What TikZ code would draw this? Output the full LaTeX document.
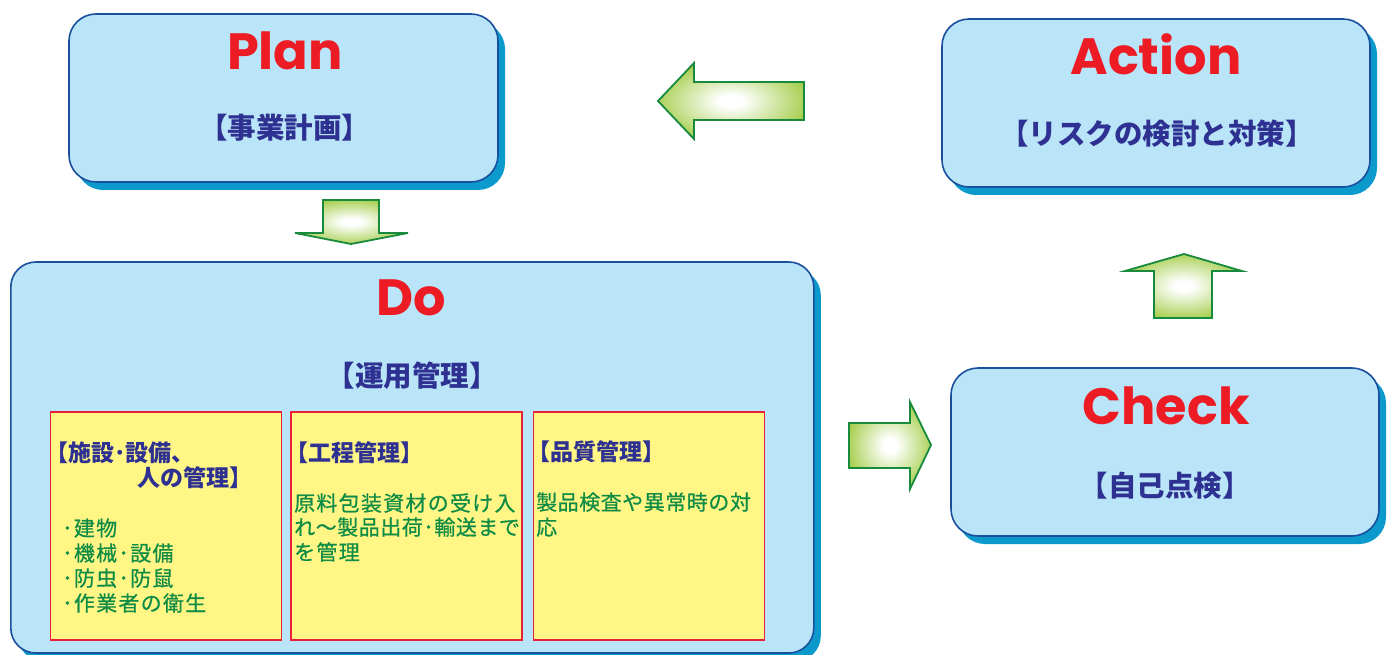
\documentclass[tikz,border=0pt]{standalone}
\usepackage{fontspec}
\newfontfamily\jp{Noto Sans CJK JP}
\newfontfamily\titlefont{Poppins}
\usetikzlibrary{shadows}
\definecolor{boxfill}{HTML}{BAE5F8}
\definecolor{boxline}{HTML}{1A4F9E}
\definecolor{shadowblue}{HTML}{0B9ACB}
\definecolor{titlered}{HTML}{ED1C24}
\definecolor{subblue}{HTML}{2E3192}
\definecolor{noteyellow}{HTML}{FFF685}
\definecolor{notered}{HTML}{E8203A}
\definecolor{notegreen}{HTML}{0E8B45}
\definecolor{arrowgreen}{HTML}{9DC93B}
\definecolor{arrowline}{HTML}{178A3E}
\pgfdeclareradialshading{arrowfade}{\pgfpoint{0bp}{0bp}}{color(0bp)=(white); color(4bp)=(white); color(29bp)=(arrowgreen); color(50bp)=(arrowgreen)}
\begin{document}
\begin{tikzpicture}[x=1pt,y=-1pt,
  pdcabox/.style={rectangle, rounded corners=27pt, fill=boxfill, draw=boxline, line width=1.6pt,
    general shadow={fill=shadowblue, shadow xshift=7pt, shadow yshift=-8pt}},
  notebox/.style={rectangle, fill=noteyellow, draw=notered, line width=1.5pt,
    minimum width=231pt, minimum height=228pt},
  bigtitle/.style={anchor=base, inner sep=0pt, text=titlered, font=\titlefont\bfseries\fontsize{51}{51}\selectfont},
  subtitle/.style={anchor=base, inner sep=0pt, text=subblue, font=\jp\bfseries\fontsize{28.5}{28.5}\selectfont},
  notetitle/.style={anchor=base west, inner sep=0pt, text=subblue, font=\jp\bfseries\fontsize{23}{23}\selectfont},
  notebody/.style={anchor=base west, inner sep=0pt, text=notegreen, font=\jp\fontsize{21}{21}\selectfont\addfontfeature{LetterSpace=6,FakeBold=0.6}},
  tightbody/.style={notebody, font=\jp\fontsize{21}{21}\selectfont\addfontfeature{LetterSpace=2.5,FakeBold=0.6}},
  blockarrow/.style={draw=arrowline, line width=1.8pt, shading=arrowfade, line join=miter}]
\useasboundingbox (0,0) rectangle (1391,655);

% boxes
\node[pdcabox, minimum width=429pt, minimum height=168pt] (plan) at (283.5,98) {};
\node[pdcabox, minimum width=428pt, minimum height=168pt] (action) at (1156,103) {};
\node[pdcabox, minimum width=428pt, minimum height=168pt] (check) at (1165,452) {};
\node[pdcabox, rounded corners=25pt, minimum width=803pt, minimum height=391pt] (do) at (412.3,457.5) {};

% titles
\node[bigtitle] (plant) at (285,70) {Plan};
\node[bigtitle] (actiont) at (1156,75) {Action};
\node[bigtitle] (dot) at (411.5,315) {Do};
\node[bigtitle] (checkt) at (1166,424) {Check};

\node[subtitle] (plans) at (284.5,139) {【事業計画】};
\node[subtitle] (actions) at (1157,145) {【リスクの検討と対策】};
\node[subtitle] (dos) at (412,386) {【運用管理】};
\node[subtitle] (checks) at (1165,496) {【自己点検】};

% note boxes
\node[notebox] (n1) at (166.2,526) {};
\node[notebox] (n2) at (406.7,526) {};
\node[notebox] (n3) at (649.2,526) {};

\node[notetitle] (n1t1) at (45,461.5) {【施設･設備、};
\node[notetitle] (n1t2) at (137,486.5) {人の管理】};
\node[notebody] (n1a) at (62,536) {･建物};
\node[notebody] (n1b) at (62,561) {･機械･設備};
\node[notebody] (n1c) at (62,586) {･防虫･防鼠};
\node[notebody] (n1d) at (62,611) {･作業者の衛生};

\node[notetitle] (n2t) at (285,461.5) {【工程管理】};
\node[notebody] (n2a) at (294,511) {原料包装資材の受け入};
\node[tightbody] (n2b) at (294,535) {れ～製品出荷･輸送まで};
\node[notebody] (n2c) at (294,560) {を管理};

\node[notetitle] (n3t) at (527,460.5) {【品質管理】};
\node[tightbody] (n3a) at (536,510) {製品検査や異常時の対};
\node[tightbody] (n3b) at (536,535) {応};

% block arrows
\draw[blockarrow] (658,101) -- (694,63) -- (694,82) -- (804,82) -- (804,120) -- (694,120) -- (694,139) -- cycle;
\draw[blockarrow] (323,200) -- (379,200) -- (379,233) -- (408,233) -- (351,244) -- (295,233) -- (323,233) -- cycle;
\draw[blockarrow] (849,423) -- (910,423) -- (910,402) -- (931,445) -- (910,489) -- (910,468) -- (849,468) -- cycle;
\draw[blockarrow] (1184,254) -- (1242,271) -- (1212,271) -- (1212,318) -- (1154,318) -- (1154,271) -- (1125,271) -- cycle;
\end{tikzpicture}
\end{document}
